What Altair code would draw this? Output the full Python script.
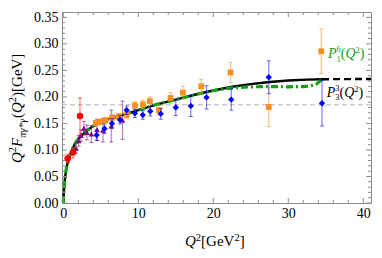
import altair as alt
import pandas as pd

# ---------------- data ----------------
cello_q = [0.59, 1.29, 2.23]
cello_v = [0.084, 0.095, 0.164]
cello_e = [0.008, 0.010, 0.034]

cleo_q = [1.70, 2.05, 2.35, 2.75, 3.15, 3.75, 4.50, 5.30, 6.40, 7.90]
cleo_v = [0.103, 0.117, 0.127, 0.141, 0.133, 0.130, 0.138, 0.137, 0.145, 0.156]
cleo_e = [0.009, 0.010, 0.011, 0.013, 0.014, 0.016, 0.020, 0.022, 0.030, 0.036]

babar_q = [4.35, 4.90, 5.65, 6.50, 7.40, 8.45, 9.55, 10.6, 11.55, 12.75, 14.3, 15.95, 18.4, 22.3, 27.4, 34.4]
babar_v = [0.151, 0.153, 0.156, 0.161, 0.163, 0.166, 0.184, 0.186, 0.192, 0.175, 0.198, 0.208, 0.220, 0.246, 0.181, 0.286]
babar_e = [0.005, 0.005, 0.005, 0.006, 0.006, 0.007, 0.007, 0.008, 0.008, 0.009, 0.010, 0.012, 0.013, 0.019, 0.037, 0.042]

belle_q = [4.45, 5.50, 6.50, 7.55, 8.45, 9.55, 10.6, 11.6, 13.0, 15.0, 17.0, 19.1, 22.4, 27.4, 34.5]
belle_v = [0.128, 0.140, 0.150, 0.157, 0.175, 0.169, 0.166, 0.173, 0.168, 0.180, 0.183, 0.199, 0.195, 0.237, 0.188]
belle_e = [0.010, 0.009, 0.009, 0.008, 0.008, 0.008, 0.008, 0.009, 0.010, 0.015, 0.020, 0.022, 0.020, 0.031, 0.043]

black_q = [0, 0.05, 0.1, 0.2, 0.35, 0.5, 0.75, 1.0, 1.5, 2, 3, 4, 5, 6, 7, 8, 10,
           12.5, 15, 17.5, 20, 22.5, 25, 27.5, 30, 32.5, 34.5]
black_v = [0, 0.013, 0.025, 0.043, 0.060, 0.071, 0.084, 0.094, 0.110, 0.121, 0.135, 0.145,
           0.152, 0.158, 0.162, 0.166, 0.175, 0.186, 0.195, 0.204, 0.212, 0.219, 0.224,
           0.228, 0.231, 0.2325, 0.2333]

dashed_q = [34.5, 37, 39, 41.03]
dashed_v = [0.2333, 0.2335, 0.2336, 0.2337]

green_q = black_q[:21] + [22.5, 25, 27.5, 30, 32, 33, 33.8, 34.5]
green_v = black_v[:21] + [0.217, 0.219, 0.2195, 0.219, 0.2195, 0.221, 0.2245, 0.2333]

asymptote = [0.185]

x_major = [0, 10, 20, 30, 40]
x_minor = [2, 4, 6, 8, 12, 14, 16, 18, 22, 24, 26, 28, 32, 34, 36, 38]
y_major = [0.0, 0.05, 0.10, 0.15, 0.20, 0.25, 0.30, 0.35]
y_minor = [0.01, 0.02, 0.03, 0.04, 0.06, 0.07, 0.08, 0.09, 0.11, 0.12, 0.13, 0.14,
           0.16, 0.17, 0.18, 0.19, 0.21, 0.22, 0.23, 0.24, 0.26, 0.27, 0.28, 0.29,
           0.31, 0.32, 0.33, 0.34]

# ---------------- styling ----------------
W, H = 309, 191
FONT = "Liberation Serif"
RED, PURPLE, ORANGE, BLUE = "#ff0000", "#800080", "#f7901e", "#0000ff"
GREEN = "#12a012"
FRAME = "#8c8c8c"

xs = alt.Scale(domain=[-0.17, 41.03], nice=False, zero=False)
ys = alt.Scale(domain=[0, 0.36], nice=False, zero=False)
x_axis = alt.Axis(values=x_major, format="d", labelFont=FONT, labelFontSize=14,
                  labelColor="black", domain=False, ticks=False, grid=False,
                  labelPadding=3, labelFlush=False, labelOverlap=False, title=None)
y_axis = alt.Axis(values=y_major, format=".2f", labelFont=FONT, labelFontSize=14,
                  labelColor="black", domain=False, ticks=False, grid=False,
                  labelPadding=4, labelOverlap=False, title=None)


def X(f):
    return alt.X(f, type="quantitative", scale=xs, axis=x_axis)


def Y(f):
    return alt.Y(f, type="quantitative", scale=ys, axis=y_axis)


def frame(q, v, e):
    return pd.DataFrame({"q": q, "v": v,
                         "lo": [a - b for a, b in zip(v, e)],
                         "hi": [a + b for a, b in zip(v, e)]})


def curve(q, v):
    return pd.DataFrame({"q": q, "v": v})


layers = []

# gray asymptote
layers.append(alt.Chart(pd.DataFrame({"v": asymptote})).mark_rule(
    color="#b0b0b0", strokeWidth=1, strokeDash=[5, 3]).encode(y=Y("v")))

# curves
layers.append(alt.Chart(curve(black_q, black_v)).mark_line(
    color="black", strokeWidth=2.4).encode(x=X("q"), y=Y("v")))
layers.append(alt.Chart(curve(dashed_q, dashed_v)).mark_line(
    color="black", strokeWidth=2.4, strokeDash=[7, 4]).encode(x=X("q"), y=Y("v")))
layers.append(alt.Chart(curve(green_q, green_v)).mark_line(
    color=GREEN, strokeWidth=3.2, strokeDash=[7, 3, 2, 3]).encode(x=X("q"), y=Y("v")))

# experimental data
sets = [
    (frame(cleo_q, cleo_v, cleo_e), PURPLE, "triangle-up", 32),
    (frame(cello_q, cello_v, cello_e), RED, "circle", 42),
    (frame(babar_q, babar_v, babar_e), ORANGE, "square", 34),
    (frame(belle_q, belle_v, belle_e), BLUE, "diamond", 40),
]
for df, col, shp, sz in sets:
    layers.append(alt.Chart(df).mark_rule(color=col, opacity=0.5, strokeWidth=1.2).encode(
        x=X("q"), y=Y("lo"), y2="hi"))
    layers.append(alt.Chart(df).mark_tick(color=col, opacity=0.6, orient="horizontal",
                                          size=4, thickness=1).encode(x=X("q"), y=Y("lo")))
    layers.append(alt.Chart(df).mark_tick(color=col, opacity=0.6, orient="horizontal",
                                          size=4, thickness=1).encode(x=X("q"), y=Y("hi")))
    layers.append(alt.Chart(df).mark_point(color=col, filled=True, opacity=1, shape=shp,
                                           size=sz).encode(x=X("q"), y=Y("v")))

# inward frame ticks
for vals, L in ((x_major, 5), (x_minor, 3)):
    d = pd.DataFrame({"t": vals})
    layers.append(alt.Chart(d).mark_rule(color=FRAME, strokeWidth=1).encode(
        x=X("t"), y=alt.value(H), y2=alt.value(H - L)))
    layers.append(alt.Chart(d).mark_rule(color=FRAME, strokeWidth=1).encode(
        x=X("t"), y=alt.value(0), y2=alt.value(L)))
for vals, L in ((y_major, 5), (y_minor, 3)):
    d = pd.DataFrame({"t": vals})
    layers.append(alt.Chart(d).mark_rule(color=FRAME, strokeWidth=1).encode(
        y=Y("t"), x=alt.value(0), x2=alt.value(L)))
    layers.append(alt.Chart(d).mark_rule(color=FRAME, strokeWidth=1).encode(
        y=Y("t"), x=alt.value(W), x2=alt.value(W - L)))

# ---------------- rich-text labels built from pieces ----------------
ONE = pd.DataFrame({"a": [0]})
EM = {"Q": 0.722, "F": 0.611, "P": 0.611, "G": 0.722, "V": 0.722, "e": 0.444,
      "(": 0.333, ")": 0.333, "[": 0.333, "]": 0.333, " ": 0.25, "*": 0.5,
      "π": 0.5, "γ": 0.44}


def width(s, size):
    return sum(EM.get(c, 0.5) for c in s) * size


def txt(s, x, y, size, italic, color, angle):
    return alt.Chart(ONE).mark_text(
        text=s, font=FONT, fontSize=size, fontStyle="italic" if italic else "normal",
        color=color, align="left", baseline="alphabetic", angle=angle
    ).encode(x=alt.value(x), y=alt.value(y))


def rich(runs, x0, y0, base, small, color, vertical=False):
    out = []
    pos = 0.0
    for text, ital, role in runs:
        size = base if role == "n" else small
        shift = {"n": 0, "sup": -0.34 * base, "sup0": -0.42 * base, "sub": 0.28 * base}[role]
        if vertical:
            out.append(txt(text, x0 + shift, y0 - pos, size, ital, color, 270))
        else:
            out.append(txt(text, x0 + pos, y0 + shift, size, ital, color, 0))
        if role != "sup0":
            pos += width(text, size)
    return out


# y axis title: Q^2 F_{πγ*γ}(Q^2) [GeV]
layers += rich([("Q", True, "n"), ("2", False, "sup"), ("F", True, "n"),
                ("πγ*γ", True, "sub"), ("(", False, "n"), ("Q", True, "n"),
                ("2", False, "sup"), (")", False, "n"), (" [GeV]", False, "n")],
               -40.5, 151, 15, 10.5, "black", vertical=True)
# x axis title: Q^2[GeV^2]
layers += rich([("Q", True, "n"), ("2", False, "sup"), ("[GeV", False, "n"),
                ("2", False, "sup"), ("]", False, "n")],
               123, 234, 15, 10.5, "black")
# curve labels
layers += rich([("P", True, "n"), ("6", False, "sup0"), ("1", False, "sub"),
                ("(", False, "n"), ("Q", True, "n"), ("2", False, "sup"), (")", False, "n")],
               266, 46, 14, 8.5, GREEN)
layers += rich([("P", True, "n"), ("3", False, "sup0"), ("3", False, "sub"),
                ("(", False, "n"), ("Q", True, "n"), ("2", False, "sup"), (")", False, "n")],
               264.7, 84.5, 14, 8.5, "black")

chart = alt.layer(*layers).properties(
    width=W, height=H,
    autosize=alt.AutoSizeParams(type="none"),
    padding={"left": 54, "top": 4, "right": 3, "bottom": 47},
).configure_view(stroke=FRAME, strokeWidth=1)

chart.save("out.html", embed_options={"renderer": "svg", "actions": False})
